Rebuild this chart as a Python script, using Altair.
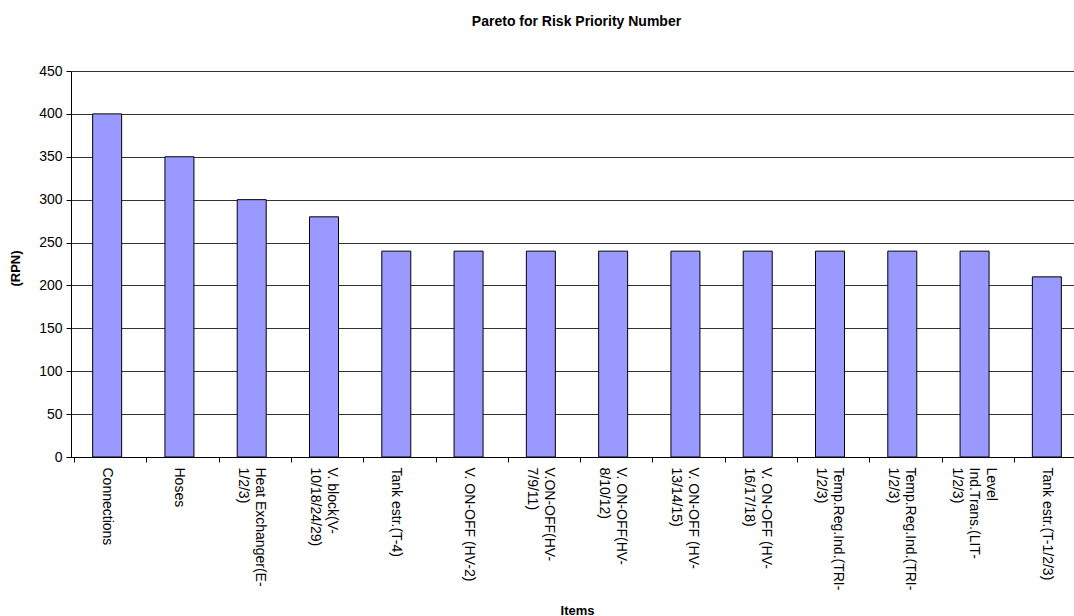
import json
import altair as alt
import pandas as pd

items = [
    "Connections",
    "Hoses",
    "Heat Exchanger(E-|1/2/3)",
    "V. block(V-|10/18/24/29)",
    "Tank estr.(T-4)",
    "V. ON-OFF (HV-2)",
    "V.ON-OFF(HV-|7/9/11)",
    "V. ON-OFF(HV-|8/10/12)",
    "V. ON-OFF (HV-|13/14/15)",
    "V. ON-OFF (HV-|16/17/18)",
    "Temp.Reg.Ind.(TRI-|1/2/3)",
    "Temp.Reg.Ind.(TRI-|1/2/3)",
    "Level|Ind.Trans.(LIT-|1/2/3)",
    "Tank estr.(T-1/2/3)",
]
rpn = [400, 350, 300, 280, 240, 240, 240, 240, 240, 240, 240, 240, 240, 210]
y_ticks = [0, 50, 100, 150, 200, 250, 300, 350, 400, 450]

df = pd.DataFrame({"idx": list(range(len(items))), "item": items, "rpn": rpn})

FONT = "Liberation Sans"
LINE_H = 17
items_js = json.dumps(items)
label_expr = "split(" + items_js + "[datum.value], '|')"
# shift multi-line labels so the block is centred under its band
offset_expr = "(length(split(" + items_js + "[datum.value], '|')) - 1) * %d" % (LINE_H // 2)

chart = (
    alt.Chart(df)
    .mark_bar(size=29, color="#9999FF", stroke="#000000", strokeWidth=1)
    .encode(
        x=alt.X(
            "idx:O",
            scale=alt.Scale(range=[0, 1012]),
            axis=alt.Axis(
                title="Items",
                titleFont=FONT,
                titleFontSize=13,
                titleFontWeight="bold",
                titleX=506,
                titleY=153,
                titleBaseline="middle",
                titleAlign="center",
                labelExpr=label_expr,
                labelAngle=90,
                labelAlign="left",
                labelBaseline="middle",
                labelFont=FONT,
                labelFontSize=14,
                labelLineHeight=LINE_H,
                labelPadding=5,
                labelOffset={"expr": offset_expr},
                labelColor="#000000",
                labelOverlap=False,
                labelLimit=0,
                bandPosition=0,
                ticks=True,
                tickSize=5,
                tickColor="#000000",
                domainColor="#000000",
                grid=False,
            ),
        ),
        y=alt.Y(
            "rpn:Q",
            scale=alt.Scale(domain=[0, 450], nice=False),
            axis=alt.Axis(
                title="(RPN)",
                titleFont=FONT,
                titleFontSize=13,
                titleFontWeight="bold",
                titleX=-56,
                titleY=197,
                titleAngle=270,
                titleAlign="center",
                titleBaseline="middle",
                values=y_ticks,
                labelFont=FONT,
                labelFontSize=14,
                labelColor="#000000",
                labelPadding=4,
                tickSize=5,
                tickColor="#000000",
                domainColor="#000000",
                grid=True,
                gridColor="#333333",
                gridWidth=1,
            ),
        ),
    )
    .properties(
        width=1003,
        height=386,
        title=alt.TitleParams(
            "Pareto for Risk Priority Number",
            font=FONT,
            fontSize=14,
            fontWeight="bold",
            color="#000000",
            anchor="middle",
            dx=4,
            offset=35,
        ),
        autosize=alt.AutoSizeParams(type="none"),
        padding={"left": 71, "top": 71, "right": 0, "bottom": 159},
    )
    .configure_view(fill="#C0C0C0", stroke=None)
    .configure(background="#FFFFFF")
)

chart.save("out.html", embed_options={"renderer": "svg", "actions": False})
